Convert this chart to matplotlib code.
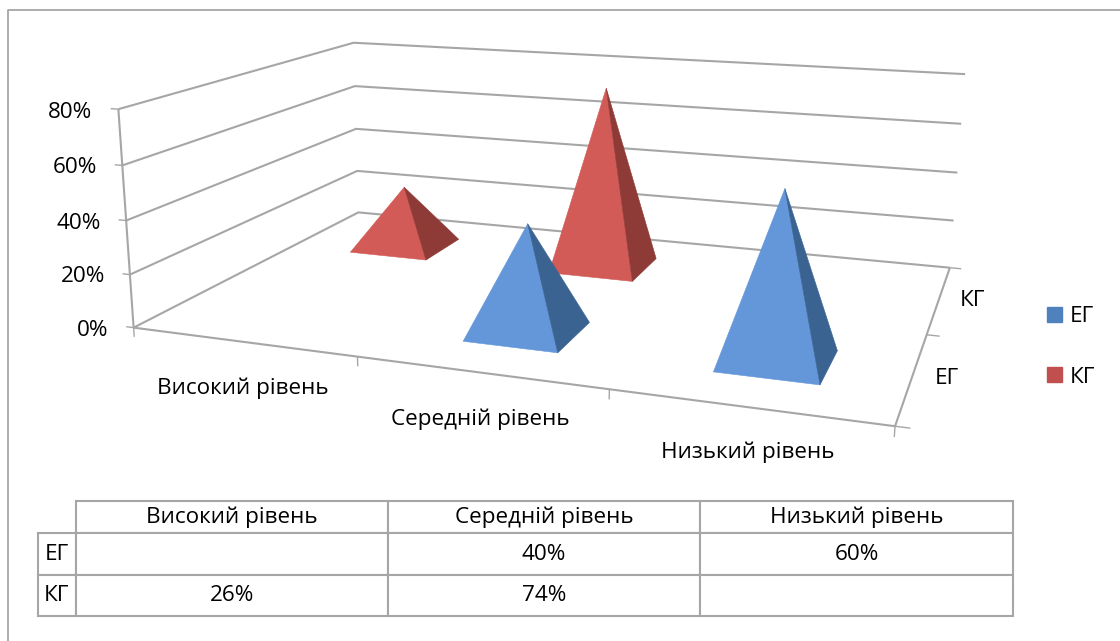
import numpy as np
import matplotlib
matplotlib.use("Agg")
import matplotlib.pyplot as plt
from matplotlib.lines import Line2D
from matplotlib.patches import Patch
from matplotlib.table import Table
from mpl_toolkits.mplot3d.art3d import Poly3DCollection, Line3DCollection

plt.rcParams['font.family'] = ['Open Sans', 'DejaVu Sans']

categories = ['Високий рівень', 'Середній рівень', 'Низький рівень']
series_names = ['ЕГ', 'КГ']
eg_values = [None, 0.40, 0.60]
kg_values = [0.26, 0.74, None]
z_ticks = [0, 0.2, 0.4, 0.6, 0.8]
z_labels = ['0%', '20%', '40%', '60%', '80%']

W, H = 1120, 641
FS = 16.2
GRAY = '#A6A6A6'
BASE_X = 0.196     # half width of a pyramid base, in category units
BASE_Y = 0.195     # half depth, in series units
COLORS = {'ЕГ': ('#6497DA', '#3A6391'), 'КГ': ('#D25B57', '#8E3A36')}
LEGEND = {'ЕГ': '#4F81BD', 'КГ': '#C0504D'}

# camera fitted to the corners of the chart box: (cat, series, value) -> pixel
world = [(0, 0, 0), (0, 0, .8), (0, 2, 0), (0, 2, .8), (3, 2, 0), (3, 2, .8), (3, 0, 0)]
pixel = [(134, 328), (118, 109), (358, 212), (354, 43), (950, 268), (965, 74), (895, 426)]
A = []
for (x, y, z), (u, v) in zip(world, pixel):
    A.append([x, y, z, 1, 0, 0, 0, 0, -u*x, -u*y, -u*z, -u])
    A.append([0, 0, 0, 0, x, y, z, 1, -v*x, -v*y, -v*z, -v])
P = np.linalg.svd(np.array(A, float))[2][-1].reshape(3, 4)
M = np.array([P[0], P[1], [0, P[2, 3] * 0.1, 0, 0], P[2]])

fig = plt.figure(figsize=(W/100, H/100), dpi=100, facecolor='white')

# 3d axes make themselves square, so use a square that is as wide as the figure
ax = fig.add_axes([0, (H-W)/2/H, 1, W/H], projection='3d', computed_zorder=False)
ax.set_axis_off()
ax.patch.set_alpha(0)
ax.get_proj = lambda: M
ax.viewLim.intervalx = (0, W)
ax.viewLim.intervaly = (H + (W-H)/2, -(W-H)/2)

walls = [[(0, 0, 0), (0, 2, 0), (3, 2, 0)], [(0, 0, 0), (3, 0, 0), (3, 2, 0)], [(0, 0, 0), (0, 0, 0.8)]]
for z in z_ticks[1:]:
    walls.append([(0, 0, z), (0, 2, z), (3, 2, z)])
stubs = [[(-0.035, 0, z), (0, 0, z)] for z in z_ticks]
stubs += [[(i, 0, 0), (i, 0, -0.035)] for i in range(4)]
stubs += [[(3, j, 0), (3.05, j, 0)] for j in range(3)]
ax.add_collection3d(Line3DCollection(walls, colors=GRAY, linewidths=1.5, zorder=1), autolim=False)
ax.add_collection3d(Line3DCollection(stubs, colors=GRAY, linewidths=1.0, zorder=1), autolim=False)


def pyramid(cat, ser, h, colors, order):
    cx, cy = cat + 0.5, ser + 0.5
    a = (cx - BASE_X, cy - BASE_Y, 0)
    c = (cx + BASE_X, cy - BASE_Y, 0)
    e = (cx + BASE_X, cy + BASE_Y, 0)
    top = (cx, cy, h)
    front = Poly3DCollection([[a, c, top]], facecolor=colors[0], edgecolor=colors[0], lw=0.4, zorder=order)
    side = Poly3DCollection([[c, e, top]], facecolor=colors[1], edgecolor=colors[1], lw=0.4, zorder=order)
    ax.add_collection3d(front)
    ax.add_collection3d(side)


for i, v in enumerate(kg_values):
    if v is not None:
        pyramid(i, 1, v, COLORS['КГ'], 3)
for i, v in enumerate(eg_values):
    if v is not None:
        pyramid(i, 0, v, COLORS['ЕГ'], 4)


def label(x, y, s, ha='center'):
    fig.text(x/W, 1 - y/H, s, ha=ha, va='center', fontsize=FS, color='black')


for lab, x, y in zip(z_labels, [108, 105, 101, 97, 92], [330, 277, 223, 168, 113]):
    label(x, y, lab, ha='right')
for lab, x, y in zip(categories, [243, 480, 748], [388, 419, 452]):
    label(x, y, lab)
for lab, x, y in zip(series_names, [947, 973], [378, 301]):
    label(x, y, lab)

# frame, only top and left are visible
fig.add_artist(Line2D([8/W, 8/W, 1120/W], [0, 1-10/H, 1-10/H], color=GRAY, lw=1.3))

# data table, its bbox leaves out the row label column
col_x = [76, 388, 700, 1013]
row_y = [501, 533, 575, 616]
left = 37.5
fmt = lambda v: '' if v is None else f'{v:.0%}'
tab_ax = fig.add_axes([0, 0, 1, 1], facecolor='none')
tab_ax.set_axis_off()
tab = Table(tab_ax, bbox=[col_x[0]/W, 1-row_y[3]/H, (col_x[3]-col_x[0])/W, (row_y[3]-row_y[0])/H])
rows = [categories, [fmt(v) for v in eg_values], [fmt(v) for v in kg_values]]
for r, cells in enumerate(rows):
    h = (row_y[r+1]-row_y[r])/H
    for c, txt in enumerate(cells):
        tab.add_cell(r, c, (col_x[c+1]-col_x[c])/W, h, text=txt, loc='center')
    if r > 0:
        tab.add_cell(r, -1, (col_x[0]-left)/W, h, text=series_names[r-1], loc='center')
tab.auto_set_font_size(False)
tab.set_fontsize(FS)
for cell in tab.get_celld().values():
    cell.set_edgecolor(GRAY)
    cell.set_linewidth(1.5)
tab_ax.add_table(tab)

fig.legend(handles=[Patch(color=LEGEND[s], label=s) for s in series_names],
           loc='center left', bbox_to_anchor=(1047/W, 1-347/H), frameon=False, fontsize=FS,
           handlelength=0.66, handleheight=0.66, handletextpad=0.35, labelspacing=1.75, borderpad=0, borderaxespad=0)

fig.savefig('out.png', dpi=100)
